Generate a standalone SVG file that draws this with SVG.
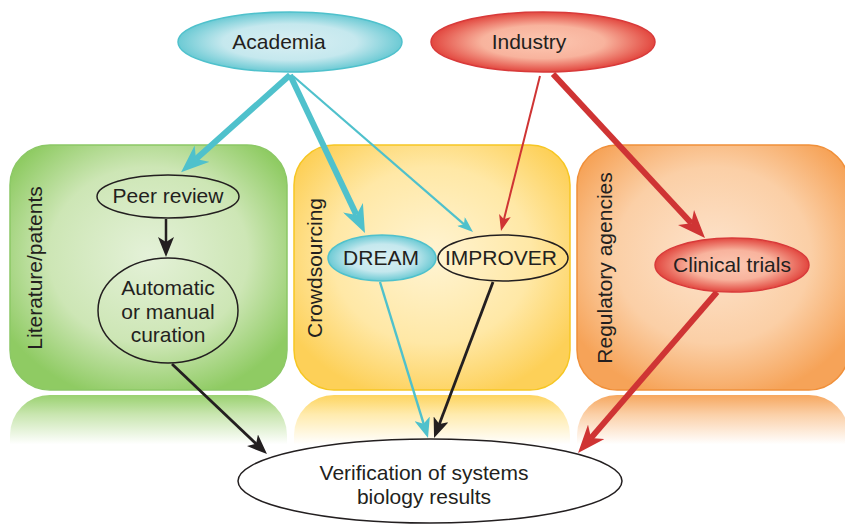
<svg xmlns="http://www.w3.org/2000/svg" width="845" height="525" viewBox="0 0 845 525">
<defs>
<radialGradient id="gGreen" cx="0.5" cy="0.45" r="0.6"><stop offset="0" stop-color="#e4f1d8"/><stop offset="0.6" stop-color="#cde6b5"/><stop offset="1" stop-color="#8fcb63"/></radialGradient>
<radialGradient id="gYellow" cx="0.5" cy="0.45" r="0.6"><stop offset="0" stop-color="#fff4d3"/><stop offset="0.6" stop-color="#ffe8a6"/><stop offset="1" stop-color="#fdd058"/></radialGradient>
<radialGradient id="gOrange" cx="0.5" cy="0.45" r="0.6"><stop offset="0" stop-color="#fde3cc"/><stop offset="0.6" stop-color="#fbcfa6"/><stop offset="1" stop-color="#f6a358"/></radialGradient>
<linearGradient id="rGreen" x1="0" y1="0" x2="0" y2="1"><stop offset="0" stop-color="#9ad170"/><stop offset="0.15" stop-color="#c9e6b0"/><stop offset="0.38" stop-color="#ffffff"/></linearGradient>
<linearGradient id="rYellow" x1="0" y1="0" x2="0" y2="1"><stop offset="0" stop-color="#fdd45f"/><stop offset="0.15" stop-color="#ffebae"/><stop offset="0.38" stop-color="#ffffff"/></linearGradient>
<linearGradient id="rOrange" x1="0" y1="0" x2="0" y2="1"><stop offset="0" stop-color="#f6a75f"/><stop offset="0.15" stop-color="#fbd0a8"/><stop offset="0.38" stop-color="#ffffff"/></linearGradient>
<radialGradient id="gTeal" cx="0.5" cy="0.5" r="0.5"><stop offset="0" stop-color="#d9eff3"/><stop offset="0.6" stop-color="#c5e8ee"/><stop offset="1" stop-color="#6ccad4"/></radialGradient>
<radialGradient id="gRed" cx="0.5" cy="0.5" r="0.5"><stop offset="0" stop-color="#fcc8b2"/><stop offset="0.55" stop-color="#f8b39d"/><stop offset="1" stop-color="#e2473f"/></radialGradient>
<marker id="bigTeal" markerUnits="userSpaceOnUse" markerWidth="28" markerHeight="22" refX="8" refY="11" orient="auto" viewBox="0 0 28 22"><path d="M0,0 L28,11 L0,22 L8,11 Z" fill="#4fc1cc"/></marker>
<marker id="bigRed" markerUnits="userSpaceOnUse" markerWidth="28" markerHeight="22" refX="8" refY="11" orient="auto" viewBox="0 0 28 22"><path d="M0,0 L28,11 L0,22 L8,11 Z" fill="#cf3434"/></marker>
<marker id="smTeal" markerUnits="userSpaceOnUse" markerWidth="16" markerHeight="12" refX="5" refY="6" orient="auto" viewBox="0 0 16 12"><path d="M0,0 L16,6 L0,12 L4,6 Z" fill="#4fc1cc"/></marker>
<marker id="smRed" markerUnits="userSpaceOnUse" markerWidth="16" markerHeight="12" refX="5" refY="6" orient="auto" viewBox="0 0 16 12"><path d="M0,0 L16,6 L0,12 L4,6 Z" fill="#cf3434"/></marker>
<marker id="mdBlack" markerUnits="userSpaceOnUse" markerWidth="20" markerHeight="16" refX="6" refY="8" orient="auto" viewBox="0 0 20 16"><path d="M0,0 L20,8 L0,16 L5,8 Z" fill="#231f20"/></marker>
<marker id="mdTeal" markerUnits="userSpaceOnUse" markerWidth="20" markerHeight="16" refX="6" refY="8" orient="auto" viewBox="0 0 20 16"><path d="M0,0 L20,8 L0,16 L5,8 Z" fill="#4fc1cc"/></marker>
</defs>
<style>
text{font-family:"Liberation Sans",Arial,sans-serif;font-size:21px;fill:#231f20;text-anchor:middle}
.c{fill:none;stroke-linecap:butt}
.teal{stroke:#4fc1cc}
.red{stroke:#cf3434}
.blk{stroke:#231f20}
.open{fill:none;stroke:#231f20;stroke-width:1.5}
</style>
<rect width="845" height="525" fill="#ffffff"/>
<g id="reflections">
<rect x="10" y="395" width="277" height="130" rx="40" fill="url(#rGreen)"/>
<rect x="294" y="395" width="276" height="130" rx="40" fill="url(#rYellow)"/>
<rect x="577" y="395" width="272" height="130" rx="40" fill="url(#rOrange)"/>
</g>
<g id="panel-literature">
<rect x="10" y="145" width="277" height="245" rx="40" fill="url(#gGreen)" stroke="#8cc866" stroke-width="1.5"/>
<text transform="translate(42,268) rotate(-90)">Literature/patents</text>
</g>
<g id="panel-crowdsourcing">
<rect x="294" y="145" width="276" height="245" rx="40" fill="url(#gYellow)" stroke="#f6c623" stroke-width="1.5"/>
<text transform="translate(322,268) rotate(-90)">Crowdsourcing</text>
</g>
<g id="panel-regulatory">
<rect x="577" y="145" width="272" height="245" rx="40" fill="url(#gOrange)" stroke="#f0903a" stroke-width="1.5"/>
<text transform="translate(612,268) rotate(-90)">Regulatory agencies</text>
</g>
<g id="connectors">
<line class="c teal" x1="290" y1="75" x2="196" y2="159" stroke-width="6" marker-end="url(#bigTeal)"/>
<line class="c teal" x1="290" y1="75" x2="356.4" y2="214.9" stroke-width="6" marker-end="url(#bigTeal)"/>
<line class="c teal" x1="293" y1="76" x2="464.7" y2="224.8" stroke-width="2.2" marker-end="url(#smTeal)"/>
<line class="c red" x1="540" y1="76" x2="503.7" y2="220.3" stroke-width="2" marker-end="url(#smRed)"/>
<line class="c red" x1="553" y1="74" x2="691.4" y2="223.3" stroke-width="6" marker-end="url(#bigRed)"/>
<line class="c blk" x1="166" y1="219" x2="166" y2="243" stroke-width="2.5" marker-end="url(#mdBlack)"/>
<line class="c blk" x1="172" y1="364" x2="256.8" y2="444.4" stroke-width="2.8" marker-end="url(#mdBlack)"/>
<line class="c teal" x1="380" y1="282" x2="423.9" y2="424.6" stroke-width="2.4" marker-end="url(#mdTeal)"/>
<line class="c blk" x1="493" y1="282" x2="439" y2="424.9" stroke-width="2.8" marker-end="url(#mdBlack)"/>
<line class="c red" x1="717" y1="292" x2="591.1" y2="437.9" stroke-width="6" marker-end="url(#bigRed)"/>
</g>
<g id="academia">
<ellipse cx="290" cy="42" rx="112" ry="30" fill="url(#gTeal)" stroke="#4fc1cc" stroke-width="1.5"/>
<text x="279" y="49">Academia</text>
</g>
<g id="industry">
<ellipse cx="543" cy="42" rx="112" ry="30" fill="url(#gRed)" stroke="#d83a3a" stroke-width="1.5"/>
<text x="529" y="49">Industry</text>
</g>
<g id="peer-review">
<ellipse class="open" cx="168" cy="196.5" rx="71" ry="21.5"/>
<text x="168" y="203">Peer review</text>
</g>
<g id="curation">
<ellipse class="open" cx="168" cy="310.5" rx="70" ry="52.5"/>
<text x="168" y="295">Automatic</text>
<text x="168" y="319">or manual</text>
<text x="168" y="342">curation</text>
</g>
<g id="dream">
<ellipse cx="382" cy="258" rx="54" ry="23" fill="url(#gTeal)" stroke="#4fc1cc" stroke-width="1.5"/>
<text x="381" y="265">DREAM</text>
</g>
<g id="improver">
<ellipse class="open" cx="503" cy="258" rx="65" ry="23"/>
<text x="501" y="265">IMPROVER</text>
</g>
<g id="clinical-trials">
<ellipse cx="732" cy="265" rx="77" ry="27" fill="url(#gRed)" stroke="#d83a3a" stroke-width="1.5"/>
<text x="732" y="272">Clinical trials</text>
</g>
<g id="verification">
<ellipse cx="430" cy="481" rx="192" ry="42" fill="#ffffff" stroke="#231f20" stroke-width="1.5"/>
<text x="424" y="480">Verification of systems</text>
<text x="424" y="504">biology results</text>
</g>
</svg>
